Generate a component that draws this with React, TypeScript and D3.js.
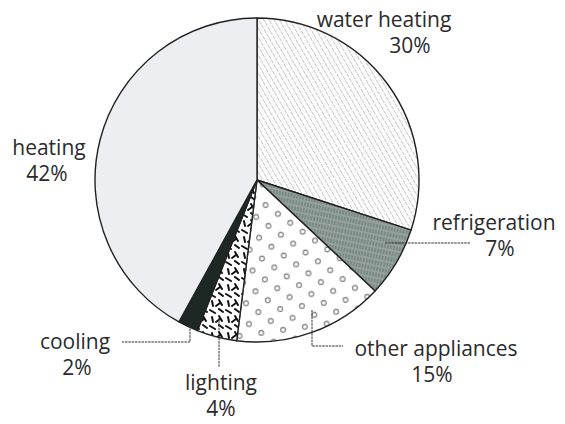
import React, { useEffect, useRef } from 'react';
import * as d3 from 'd3';

// share of household energy use, clockwise from 12 o'clock
const categories = ['water heating', 'refrigeration', 'other appliances', 'lighting', 'cooling', 'heating'];
const shares = [30, 7, 15, 4, 2, 42];
const shareLabels = ['30%', '7%', '15%', '4%', '2%', '42%'];

const fills: Record<string, string> = {
  'water heating': 'url(#hatch)',
  'refrigeration': 'url(#grain)',
  'other appliances': 'url(#rings)',
  'lighting': 'url(#dashes)',
  'cooling': '#1d2825',
  'heating': '#eceef2',
};

// label placement and leader lines (layout only)
const labelLayout: Record<string, { x: number; y: number; x2?: number; leader?: [number, number][] }> = {
  'water heating': { x: 384, y: 27, x2: 410 },
  'refrigeration': { x: 494, y: 230, x2: 500, leader: [[385, 243], [470, 243]] },
  'other appliances': { x: 436, y: 356, x2: 432, leader: [[312, 310], [312, 346], [343, 346]] },
  'lighting': { x: 221, y: 390, x2: 221, leader: [[219, 318], [219, 367]] },
  'cooling': { x: 75, y: 349, x2: 77, leader: [[190, 322], [190, 342], [122, 342]] },
  'heating': { x: 49, y: 155, x2: 47 },
};

function EnergyPie() {
  const svgRef = useRef<SVGSVGElement>(null);

  useEffect(() => {
    if (!svgRef.current) return;
    const width = 565;
    const height = 424;
    const cx = 257;
    const cy = 180;
    const radius = 162;

    const svg = d3.select(svgRef.current);
    svg.selectAll('*').remove();
    svg.attr('width', width).attr('height', height).attr('viewBox', `0 0 ${width} ${height}`);

    const defs = svg.append('defs');

    // diagonal dashed hatch
    const hatch = defs.append('pattern')
      .attr('id', 'hatch')
      .attr('patternUnits', 'userSpaceOnUse')
      .attr('width', 4.5).attr('height', 5)
      .attr('patternTransform', 'rotate(-30)');
    hatch.append('rect').attr('width', 4.5).attr('height', 5).attr('fill', '#fbfbfb');
    hatch.append('line')
      .attr('x1', 0).attr('y1', 0).attr('x2', 0).attr('y2', 5)
      .attr('stroke', '#909090').attr('stroke-width', 0.9)
      .attr('stroke-dasharray', '2,1');

    // grainy grey-green
    const grain = defs.append('pattern')
      .attr('id', 'grain')
      .attr('patternUnits', 'userSpaceOnUse')
      .attr('width', 3).attr('height', 6)
      .attr('patternTransform', 'rotate(12)');
    grain.append('rect').attr('width', 3).attr('height', 6).attr('fill', '#93a09b');
    grain.append('line')
      .attr('x1', 1).attr('y1', 0).attr('x2', 1).attr('y2', 4)
      .attr('stroke', '#66756f').attr('stroke-width', 1);

    // small open circles
    const rings = defs.append('pattern')
      .attr('id', 'rings')
      .attr('patternUnits', 'userSpaceOnUse')
      .attr('width', 22).attr('height', 21)
      .attr('patternTransform', 'rotate(-8)');
    rings.append('rect').attr('width', 22).attr('height', 21).attr('fill', '#ffffff');
    [[5, 5], [16, 15.5]].forEach(([x, y]) => {
      rings.append('circle').attr('cx', x).attr('cy', y).attr('r', 2.4)
        .attr('fill', 'none').attr('stroke', '#7a7a7a').attr('stroke-width', 1.1);
    });

    // black scattered dashes
    const dashes = defs.append('pattern')
      .attr('id', 'dashes')
      .attr('patternUnits', 'userSpaceOnUse')
      .attr('width', 16).attr('height', 16);
    dashes.append('rect').attr('width', 16).attr('height', 16).attr('fill', '#ffffff');
    const strokes = [
      [1, 2, 6, 5], [10, 1, 14, 4], [3, 9, 4, 14], [10, 8, 13, 13], [7, 14, 11, 11],
    ];
    strokes.forEach(([x1, y1, x2, y2]) => {
      dashes.append('line')
        .attr('x1', x1).attr('y1', y1).attr('x2', x2).attr('y2', y2)
        .attr('stroke', '#111').attr('stroke-width', 2).attr('stroke-linecap', 'round');
    });

    const data = categories.map((c, i) => ({ name: c, value: shares[i], label: shareLabels[i] }));

    const pie = d3.pie<{ name: string; value: number; label: string }>()
      .sort(null)
      .value(d => d.value)
      .startAngle(0)
      .endAngle(2 * Math.PI);

    const arc = d3.arc<d3.PieArcDatum<{ name: string; value: number; label: string }>>()
      .innerRadius(0)
      .outerRadius(radius);

    const g = svg.append('g').attr('transform', `translate(${cx},${cy})`);

    g.selectAll('path.slice')
      .data(pie(data))
      .enter()
      .append('path')
      .attr('class', 'slice')
      .attr('d', arc)
      .attr('fill', d => fills[d.data.name])
      .attr('stroke', '#222')
      .attr('stroke-width', 1.4)
      .attr('stroke-linejoin', 'round');

    // leaders
    const line = d3.line();
    data.forEach(d => {
      const lay = labelLayout[d.name];
      if (lay.leader) {
        svg.append('path')
          .attr('d', line(lay.leader))
          .attr('fill', 'none')
          .attr('stroke', '#333')
          .attr('stroke-width', 1)
          .attr('stroke-dasharray', '2.5,0.8');
      }
    });

    // labels
    data.forEach(d => {
      const lay = labelLayout[d.name];
      const t = svg.append('text')
        .attr('font-family', '"Open Sans", sans-serif')
        .attr('font-size', 21)
        .attr('fill', '#2b2b2b')
        .attr('text-anchor', 'middle');
      t.append('tspan').attr('x', lay.x).attr('y', lay.y).text(d.name);
      t.append('tspan').attr('x', lay.x2 ?? lay.x).attr('y', lay.y + 26).text(d.label);
    });
  }, []);

  return (
    <div style={{ position: 'absolute', left: 0, top: 0, background: '#fff' }}>
      <svg ref={svgRef}></svg>
    </div>
  );
}

export default function App() {
  return <EnergyPie />;
}
